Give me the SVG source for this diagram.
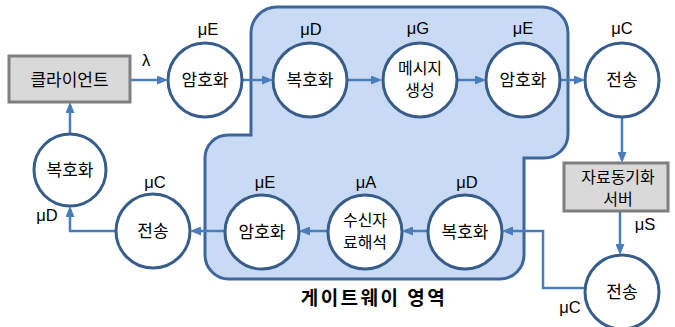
<svg xmlns="http://www.w3.org/2000/svg" width="675" height="327" viewBox="0 0 675 327">
<style>
text{font-family:"Noto Sans CJK KR","Noto Sans",sans-serif;fill:#000;}
.t{font-size:17px;text-anchor:middle;}
.t2{font-size:16px;text-anchor:middle;}
.m{font-size:16.5px;text-anchor:middle;font-family:"Liberation Sans","Noto Sans CJK KR",sans-serif;}
.c{fill:#fff;stroke:#385d8a;stroke-width:3;}
.b{fill:#d9d9d9;stroke:#7f7f7f;stroke-width:3;}
.e{fill:none;stroke:#4a7ebb;stroke-width:2.5;marker-end:url(#ah);}
</style>
<defs>
<marker id="ah" markerUnits="userSpaceOnUse" markerWidth="11" markerHeight="9" refX="8" refY="4.5" orient="auto">
<path d="M0,0 L11,4.5 L0,9 z" fill="#4a7ebb"/>
</marker>
</defs>
<g id="gateway">
<path d="M277 7 H542 A26 26 0 0 1 568 33 V134 A24 24 0 0 1 544 158 H524 V255 A24 24 0 0 1 500 279 H229 A24 24 0 0 1 205 255 V158 A23 23 0 0 1 228 135 H251 V33 A26 26 0 0 1 277 7 Z" fill="#c9daf5" stroke="#3d669c" stroke-width="3"/>
<text x="374" y="305" font-size="19" font-weight="bold" text-anchor="middle" letter-spacing="2.5">게이트웨이 영역</text>
</g>
<g id="connectors">
<path class="e" d="M130 80 H165"/>
<text class="m" x="146" y="66">λ</text>
<path class="e" d="M242 80 H270"/>
<path class="e" d="M347 80 H379"/>
<path class="e" d="M457 80 H483"/>
<path class="e" d="M560 80 H582"/>
<path class="e" d="M622 117 V160"/>
<path class="e" d="M620 211 V252"/>
<path class="e" d="M585 288 H543 V231 H505"/>
<path class="e" d="M427 231 H405"/>
<path class="e" d="M327 231 H302"/>
<path class="e" d="M225 231 H193"/>
<path class="e" d="M115 231 H70 V209"/>
<path class="e" d="M70 134 V105"/>
</g>
<g id="client">
<rect class="b" x="9" y="56" width="121" height="46"/>
<text class="t" x="69.5" y="86">클라이언트</text>
</g>
<g id="enc1">
<circle class="c" cx="205" cy="80" r="37"/>
<text class="t" x="205" y="86">암호화</text>
<text class="m" x="208" y="35">μE</text>
</g>
<g id="dec1">
<circle class="c" cx="310" cy="80" r="37"/>
<text class="t" x="310" y="86">복호화</text>
<text class="m" x="311" y="35">μD</text>
</g>
<g id="msggen">
<circle class="c" cx="420" cy="80" r="37"/>
<text class="t2" x="420" y="74">메시지</text>
<text class="t2" x="420" y="96">생성</text>
<text class="m" x="418" y="34">μG</text>
</g>
<g id="enc2">
<circle class="c" cx="523" cy="80" r="37"/>
<text class="t" x="523" y="86">암호화</text>
<text class="m" x="523" y="34">μE</text>
</g>
<g id="send1">
<circle class="c" cx="622" cy="80" r="37"/>
<text class="t" x="622" y="86">전송</text>
<text class="m" x="622" y="34">μC</text>
</g>
<g id="syncserver">
<rect class="b" x="564" y="163" width="104" height="48"/>
<text class="t2" x="618" y="183">자료동기화</text>
<text class="t2" x="618" y="205">서버</text>
<text class="m" x="645" y="230">μS</text>
</g>
<g id="send2">
<circle class="c" cx="622" cy="292" r="37"/>
<text class="t" x="622" y="298">전송</text>
<text class="m" x="570" y="313">μC</text>
</g>
<g id="dec2">
<circle class="c" cx="465" cy="232" r="37"/>
<text class="t" x="465" y="238">복호화</text>
<text class="m" x="467" y="188">μD</text>
</g>
<g id="parse">
<circle class="c" cx="365" cy="232" r="37"/>
<text class="t2" x="365" y="226">수신자</text>
<text class="t2" x="365" y="248">료해석</text>
<text class="m" x="366" y="188">μA</text>
</g>
<g id="enc3">
<circle class="c" cx="262" cy="232" r="37"/>
<text class="t" x="262" y="238">암호화</text>
<text class="m" x="265" y="188">μE</text>
</g>
<g id="send3">
<circle class="c" cx="153" cy="231" r="37"/>
<text class="t" x="153" y="237">전송</text>
<text class="m" x="155" y="188">μC</text>
</g>
<g id="dec3">
<circle class="c" cx="70" cy="170" r="36"/>
<text class="t" x="70" y="176">복호화</text>
<text class="m" x="47" y="221">μD</text>
</g>
</svg>
